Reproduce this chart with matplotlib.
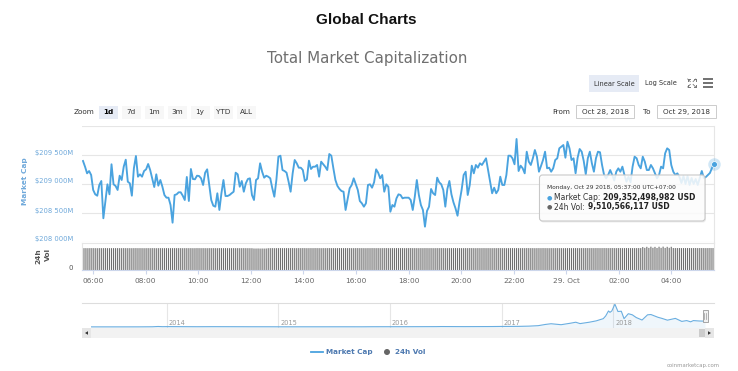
import numpy as np
import pandas as pd
import matplotlib
matplotlib.use("Agg")
import matplotlib.pyplot as plt
import matplotlib.dates as mdates
from matplotlib.patches import Rectangle, FancyBboxPatch, Polygon, Circle
from matplotlib.transforms import ScaledTranslation, blended_transform_factory
from matplotlib.ticker import FixedLocator, FuncFormatter

# ---------------- data ----------------
# Total market cap, million USD, 2018-10-28 05:37 -> 2018-10-29 05:37 (UTC+7)
market_cap_musd = [
    209397, 209298, 209184, 209224, 209155, 208897, 208822, 208798, 208983, 209052,
    208409, 208695, 208995, 208822, 209340, 208995, 208966, 208897, 209143, 209069,
    209298, 209419, 209040, 209012, 208798, 209271, 209483, 209126, 209167, 209126,
    209224, 209253, 209345, 209241, 209098, 208948, 209167, 208971, 209069, 208953,
    208810, 208764, 208764, 208638, 208333, 208810, 208822, 208857, 208857, 208798,
    208724, 209121, 208707, 209259, 209086, 209081, 209143, 209138, 209098, 208983,
    209195, 209253, 208995, 208724, 208626, 208609, 208840, 208552, 208840, 209069,
    208793, 208793, 208810, 208840, 208867, 209195, 209167, 208953, 209052,
    208867, 209012, 209086, 209098, 208810, 208724, 209069, 209098, 209357, 209212,
    209109, 209143, 209126, 209098, 208926, 208781, 209069, 209471, 209488, 209241,
    209224, 209195, 209040, 208867, 209184, 209414, 209357, 209281, 209281, 209241,
    209052, 209081, 209402, 209259, 209298, 209298, 209328, 209126, 209385, 209340,
    209298, 209241, 209517, 209488, 209271, 209069, 208966, 208914, 208879, 208867,
    208552, 208741, 208926, 208983, 209098, 208995, 208897, 208707, 208667, 208609,
    208667, 208983, 208995, 208936, 209029, 209253, 209195, 209098, 209155, 208867,
    208995, 208953, 208522, 208638, 208609, 208753, 208822, 208810, 208753,
    208764, 208764, 208764, 208724, 208552, 208781, 209069, 208810, 208638, 208552,
    208264, 208535, 208609, 208914, 208840, 208810, 209109, 209029, 208995, 208897,
    208609, 208914, 209052, 208822, 208684, 208581, 208453, 208695, 208897, 209155,
    209212, 208810, 208983, 209316, 209184, 209328, 209281, 209357, 209328, 209385,
    209443, 209241, 209040, 208840, 208936, 208840, 208897, 209126, 208983, 208983,
    209155, 209488, 209488, 209443, 209340, 209776, 209224, 209316, 209271, 209184,
    209557, 209385, 209328, 209443, 209586, 209471, 209212, 209310, 209414, 209557,
    209271, 209281, 209212, 209271, 209414, 209443, 209615, 209643,
    209672, 209453, 209729, 209615, 209414, 209443, 209184, 209453, 209603, 209557,
    209397, 209167, 209443, 209557, 209357, 209212, 209443, 209557, 209547, 209328,
    209155,
    209098, 209155, 209241, 209155, 209060, 209212, 209270, 209212, 209299, 209155,
    209040, 209126, 209030, 209299, 209471, 209443, 209328, 209270, 209471, 209385,
    209241, 209241, 209328, 209270, 209184, 209098, 209155, 209299, 209270, 209529,
    209615, 209586, 209328, 209212, 209155, 209184, 209126,
    209017, 209138, 209000, 209138, 208983, 209103, 209000, 209086, 208983, 209103,
    209224, 209103, 209121, 209155, 209190, 209276, 209352,
]

# 24h volume, billion USD
volume_busd = [
    9.47, 9.48, 9.46, 9.47, 9.49, 9.48, 9.47, 9.46, 9.48, 9.47,
    9.48, 9.49, 9.47, 9.46, 9.47, 9.48, 9.47, 9.48, 9.46, 9.47,
    9.49, 9.48, 9.47, 9.47, 9.46, 9.48, 9.49, 9.47, 9.48, 9.47,
    9.46, 9.47, 9.48, 9.47, 9.49, 9.48, 9.46, 9.47, 9.48, 9.47,
    9.47, 9.48, 9.46, 9.47, 9.48, 9.49, 9.47, 9.48, 9.47, 9.46,
    9.48, 9.47, 9.47, 9.48, 9.46, 9.47, 9.49, 9.48, 9.47, 9.48,
    9.47, 9.46, 9.48, 9.47, 9.48, 9.47, 9.46, 9.48, 9.49, 9.47,
    9.48, 9.47, 9.46, 9.47, 9.48, 9.47, 9.48, 9.46, 9.47, 9.48,
    9.47, 9.46, 9.45, 9.44, 9.33, 9.32, 9.34, 9.31, 9.33, 9.32,
    9.34, 9.45, 9.47, 9.48, 9.46, 9.47, 9.48, 9.49, 9.47, 9.48,
    9.48, 9.47, 9.49, 9.50, 9.48, 9.47, 9.49, 9.48, 9.50, 9.49,
    9.47, 9.48, 9.49, 9.48, 9.50, 9.49, 9.48, 9.47, 9.49, 9.48,
    9.49, 9.50, 9.48, 9.49, 9.47, 9.48, 9.50, 9.49, 9.48, 9.49,
    9.48, 9.49, 9.47, 9.48, 9.49, 9.50, 9.48, 9.49, 9.48, 9.47,
    9.49, 9.48, 9.50, 9.49, 9.48, 9.49, 9.47, 9.48, 9.49, 9.50,
    9.48, 9.47, 9.49, 9.48, 9.50, 9.49, 9.48, 9.49, 9.47, 9.48,
    9.49, 9.50, 9.48, 9.49, 9.48, 9.47, 9.49, 9.48, 9.50, 9.49,
    9.48, 9.49, 9.47, 9.48, 9.49, 9.48, 9.50, 9.49, 9.48, 9.47,
    9.49, 9.48, 9.49, 9.50, 9.48, 9.49, 9.47, 9.48, 9.49, 9.48,
    9.50, 9.49, 9.48, 9.47, 9.49, 9.48, 9.49, 9.50, 9.48, 9.49,
    9.48, 9.47, 9.49, 9.48, 9.50, 9.49, 9.48, 9.49, 9.47, 9.48,
    9.49, 9.50, 9.48, 9.49, 9.48, 9.47, 9.49, 9.48, 9.50, 9.49,
    9.48, 9.49, 9.47, 9.48, 9.49, 9.48, 9.50, 9.49, 9.48, 9.47,
    9.49, 9.48, 9.49, 9.50, 9.48, 9.49, 9.47, 9.48, 9.49, 9.50,
    9.48, 9.49, 9.50, 9.49, 9.48, 9.50, 9.49, 9.51, 9.50, 9.49,
    9.50, 9.49, 9.51, 9.50, 9.49, 9.50, 9.51, 9.50, 9.49, 9.50,
    9.51, 9.50, 9.49, 9.51, 9.50, 9.49, 9.50, 9.51, 9.50, 9.49,
    9.49, 9.50, 9.49, 9.51, 9.50, 9.95, 9.60, 10.05, 9.58, 10.10,
    9.62, 10.02, 9.55, 10.08, 9.60, 10.12, 9.57, 10.04, 9.61, 10.06,
    9.52, 9.50, 9.51, 9.52, 9.50, 9.51, 9.50, 9.52, 9.51, 9.50,
    9.51, 9.52, 9.50, 9.51, 9.52, 9.51, 9.50, 9.51, 9.52, 9.51,
    9.51,
]

y_ticks_musd = [208000, 208500, 209000, 209500, 210000]

# Navigator (all-time market cap, billion USD)
nav_dates = ['2013-04-28', '2013-06-01', '2013-08-01', '2013-10-01', '2013-11-15', '2013-12-04',
             '2013-12-18', '2014-01-05', '2014-02-25', '2014-04-10', '2014-06-01', '2014-08-01',
             '2014-10-01', '2014-12-01', '2015-01-15', '2015-03-01', '2015-06-01', '2015-08-01',
             '2015-10-01', '2015-11-05', '2015-12-15', '2016-03-01', '2016-06-01', '2016-06-18',
             '2016-09-01', '2016-12-01', '2017-01-05', '2017-02-01', '2017-03-01', '2017-04-01',
             '2017-05-01', '2017-05-25', '2017-06-12', '2017-07-15', '2017-08-15', '2017-09-01',
             '2017-09-15', '2017-10-15', '2017-11-07', '2017-11-30', '2017-12-08', '2017-12-17',
             '2017-12-22', '2017-12-28', '2018-01-07', '2018-01-17', '2018-01-28', '2018-02-06',
             '2018-02-20', '2018-03-05', '2018-03-18', '2018-04-06', '2018-04-24', '2018-05-05',
             '2018-05-28', '2018-06-10', '2018-06-28', '2018-07-24', '2018-08-14', '2018-08-30',
             '2018-09-12', '2018-09-21', '2018-10-10', '2018-10-29']
nav_caps_busd = [1.5, 1.2, 1.3, 1.9, 5.0, 15.0, 8.5, 11.0, 8.5, 6.5, 8.5, 7.5,
                 5.5, 5.0, 3.5, 3.6, 3.7, 4.3, 3.6, 6.0, 6.5, 7.2, 10.0, 13.0,
                 10.0, 13.0, 17.0, 17.5, 20.0, 28.0, 45.0, 90.0, 115.0, 80.0, 135.0, 170.0,
                 120.0, 170.0, 220.0, 300.0, 400.0, 580.0, 530.0, 580.0, 830.0, 560.0,
                 570.0, 300.0, 480.0, 440.0, 340.0, 250.0, 440.0, 450.0, 350.0, 310.0,
                 245.0, 310.0, 200.0, 230.0, 185.0, 230.0, 215.0, 209.0]
nav_years = [2014, 2015, 2016, 2017, 2018]

x_tick_hours = list(range(0, 24, 2))

# ---------------- style ----------------
LINE = '#4aa3df'
YLAB = '#6ea8da'
GRID = '#e6e6e6'
W, H = 738, 371

plt.rcParams['font.family'] = ['DejaVu Sans']
fig = plt.figure(figsize=(W / 100, H / 100), dpi=100)
fig.patch.set_facecolor('white')


def add_px(x0, y0, x1, y1):
    return fig.add_axes([x0 / W, 1 - y1 / H, (x1 - x0) / W, (y1 - y0) / H])


up3 = ScaledTranslation(0, 0.03, fig.dpi_scale_trans)

start = pd.Timestamp('2018-10-28 05:37')
end = pd.Timestamp('2018-10-29 05:37')
times = pd.date_range(start, end, periods=len(market_cap_musd))
vtimes = pd.date_range(start, end, periods=len(volume_busd))
t_left = start - pd.Timedelta(minutes=2.3)

# ---------------- main panel ----------------
ax = add_px(82, 126, 714, 242)
ax.plot(times, market_cap_musd, color=LINE, lw=1.35, solid_joinstyle='round', zorder=3)
ax.set_xlim(t_left, end)
ax.set_ylim(y_ticks_musd[0], y_ticks_musd[-1])
ax.yaxis.set_major_locator(FixedLocator(y_ticks_musd))
ax.yaxis.set_major_formatter(FuncFormatter(
    lambda v, p: '' if v >= y_ticks_musd[-1] else '$' + f"{int(round(v)):,}".replace(',', ' ') + 'M'))
ax.grid(axis='y', color=GRID, lw=0.8)
ax.tick_params(axis='y', length=0, labelsize=4.9, labelcolor=YLAB, pad=6.5)
ax.tick_params(axis='x', length=0, labelbottom=False)
for s in ['left', 'bottom', 'top']:
    ax.spines[s].set_visible(False)
ax.spines['right'].set_color(GRID)
ax.spines['right'].set_linewidth(0.8)
for lab in ax.get_yticklabels():
    lab.set_transform(lab.get_transform() + up3)
# last point marker with halo
ax.plot([times[-1]], [market_cap_musd[-1]], 'o', ms=9, color=LINE, alpha=0.25, mew=0, clip_on=False, zorder=4)
ax.plot([times[-1]], [market_cap_musd[-1]], 'o', ms=4.2, color=LINE, mec='white', mew=0.5, clip_on=False, zorder=5)

# ---------------- volume panel ----------------
axv = add_px(82, 243, 714, 270)
step_days = (end - start).total_seconds() / 86400 / (len(volume_busd) - 1)
bars = axv.bar(vtimes, volume_busd, width=step_days * 0.55, color='#6f6f6f', linewidth=0, align='center')
for b in bars:
    b.set_snap(False)
axv.set_xlim(t_left, end)
axv.set_ylim(0, 11.7)
axv.set_yticks([0])
axv.set_yticklabels(['0'])
axv.tick_params(axis='y', length=0, labelsize=5, labelcolor='#555555', pad=6.5)
for lab in axv.get_yticklabels():
    lab.set_transform(lab.get_transform() + up3)
axv.xaxis.set_major_locator(mdates.HourLocator(byhour=x_tick_hours))


def fmt_time(x, p):
    d = mdates.num2date(x)
    if d.hour == 0:
        return f"{d.day}. {d:%b}"
    return d.strftime('%H:%M')


axv.xaxis.set_major_formatter(FuncFormatter(fmt_time))
axv.tick_params(axis='x', length=3, color='#ccd6eb', width=0.8, labelsize=5.3, labelcolor='#666666', pad=2.5)
for s in ['left', 'right', 'top']:
    axv.spines[s].set_color(GRID)
    axv.spines[s].set_linewidth(0.8)
axv.spines['bottom'].set_color('#ccd6eb')
axv.spines['bottom'].set_linewidth(0.8)

# ---------------- navigator ----------------
axn = add_px(91, 303, 705, 328)
nav_t = pd.to_datetime(nav_dates)
axn.fill_between(nav_t, nav_caps_busd, -40, color='#6aaee0', alpha=0.1, lw=0)
axn.plot(nav_t, nav_caps_busd, color='#6aaee0', lw=0.8)
axn.set_xlim(nav_t[0], nav_t[-1])
axn.set_ylim(-40, 870)
axn.set_axis_off()
btr = blended_transform_factory(axn.transData, axn.transAxes)
offx = ScaledTranslation(0.02, 0, fig.dpi_scale_trans)
for yr in nav_years:
    d = pd.Timestamp(f'{yr}-01-01')
    axn.axvline(d, color=GRID, lw=0.8, zorder=0)
    axn.text(d, 0.2, str(yr), transform=btr + offx, fontsize=4.8, color='#999999', ha='left', va='center')

# ---------------- overlay (pixel coordinates) ----------------
ov = fig.add_axes([0, 0, 1, 1])
ov.set_xlim(0, W)
ov.set_ylim(H, 0)
ov.axis('off')
ov.patch.set_alpha(0)
ov.set_zorder(10)

ov.text(366.5, 20, 'Global Charts', ha='center', va='center', fontsize=11,
        fontweight='bold', family='Liberation Sans', color='#111111')
ov.text(367, 59, 'Total Market Capitalization', ha='center', va='center', fontsize=10.9, color='#707070')

# scale buttons
ov.add_patch(Rectangle((589, 75), 50, 17, fc='#e6ebf5', ec='none'))
ov.text(614, 83.5, 'Linear Scale', ha='center', va='center', fontsize=4.8, color='#333333')
ov.text(661, 83.5, 'Log Scale', ha='center', va='center', fontsize=4.8, color='#333333')
# fullscreen icon
cx, cy, a, b = 691.7, 83, 4.0, 1.8
for sx in (-1, 1):
    for sy in (-1, 1):
        ov.plot([cx + sx * a, cx + sx * (a - b)], [cy + sy * a, cy + sy * a], color='#777777', lw=0.7)
        ov.plot([cx + sx * a, cx + sx * a], [cy + sy * a, cy + sy * (a - b)], color='#777777', lw=0.7)
        ov.plot([cx + sx * a, cx + sx * (a - 2.6)], [cy + sy * a, cy + sy * (a - 2.6)], color='#777777', lw=0.6)
# hamburger
for yy in (79, 83, 87):
    ov.plot([703, 713], [yy, yy], color='#666666', lw=1.3, solid_capstyle='butt')

# zoom buttons
ov.text(83.7, 112, 'Zoom', ha='center', va='center', fontsize=5.2, color='#333333')
zoom_labels = ['1d', '7d', '1m', '3m', '1y', 'YTD', 'ALL']
zoom_cx = [108, 131, 154, 177, 200, 223, 246]
for lab, c in zip(zoom_labels, zoom_cx):
    sel = lab == '1d'
    ov.add_patch(Rectangle((c - 9.5, 105.5), 19, 13, fc='#e6ebf5' if sel else '#f7f7f7', ec='none'))
    ov.text(c, 112, lab, ha='center', va='center', fontsize=5.2, color='#000000' if sel else '#333333',
            fontweight='bold' if sel else 'normal')

# date range inputs
ov.text(561, 112, 'From', ha='center', va='center', fontsize=5.2, color='#333333')
ov.add_patch(Rectangle((576, 105), 58, 13.3, fc='white', ec='#cccccc', lw=0.7))
ov.text(605, 112, 'Oct 28, 2018', ha='center', va='center', fontsize=5.2, color='#333333')
ov.text(647, 112, 'To', ha='center', va='center', fontsize=5.2, color='#333333')
ov.add_patch(Rectangle((657, 105), 59, 13.3, fc='white', ec='#cccccc', lw=0.7))
ov.text(686.5, 112, 'Oct 29, 2018', ha='center', va='center', fontsize=5.2, color='#333333')

# axis titles
ov.text(25.5, 181, 'Market Cap', rotation=90, ha='center', va='center', fontsize=5.3,
        fontweight='bold', color=YLAB)
ov.text(38.5, 256.5, '24h', rotation=90, ha='center', va='center', fontsize=5.3,
        fontweight='bold', color='#555555')
ov.text(47.5, 254.5, 'Vol', rotation=90, ha='center', va='center', fontsize=5.3,
        fontweight='bold', color='#555555')

# tooltip
ov.add_patch(FancyBboxPatch((540.5, 176.5), 165.5, 46, boxstyle='round,pad=0,rounding_size=3',
                            fc=(0, 0, 0, 0.07), ec='none'))
ov.add_patch(FancyBboxPatch((539.5, 175), 165.5, 46, boxstyle='round,pad=0,rounding_size=3',
                            fc=(1, 1, 1, 0.85), ec='#c8c8c8', lw=0.8))
ov.text(546.7, 188, 'Monday, Oct 29 2018, 05:37:00 UTC+07:00', fontsize=4.2, color='#333333',
        ha='left', va='center')
rend = fig.canvas.get_renderer()


def follow(t, y, s, **kw):
    bb = t.get_window_extent(rend)
    xe = ov.transData.inverted().transform((bb.x1, bb.y0))[0]
    return ov.text(xe + 2.5, y, s, **kw)


ov.text(549, 197.5, '●', color=LINE, fontsize=4.5, ha='center', va='center')
t1 = ov.text(554.5, 197.5, 'Market Cap:', fontsize=5.5, color='#333333', ha='left', va='center')
follow(t1, 197.5, f"{209352498982:,} USD", fontsize=5.5, fontweight='bold', color='#222222',
       ha='left', va='center')
ov.text(549, 207, '●', color='#666666', fontsize=4.5, ha='center', va='center')
t2 = ov.text(554.5, 207, '24h Vol:', fontsize=5.5, color='#333333', ha='left', va='center')
follow(t2, 207, f"{9510566117:,} USD", fontsize=5.5, fontweight='bold', color='#222222',
       ha='left', va='center')

# navigator outline, scrollbar, handle
ov.plot([82, 714], [303, 303], color='#dddddd', lw=0.8)
ov.add_patch(Rectangle((82, 328), 632, 10, fc='#f2f2f2', ec='none'))
ov.add_patch(Rectangle((82, 328), 9, 10, fc='#e6e6e6', ec='none'))
ov.add_patch(Rectangle((705, 328), 9, 10, fc='#e6e6e6', ec='none'))
ov.add_patch(Rectangle((699, 329), 6, 8, fc='#cccccc', ec='none'))
ov.add_patch(Polygon([(85, 333), (88, 331.2), (88, 334.8)], closed=True, fc='#333333', ec='none'))
ov.add_patch(Polygon([(711, 333), (708, 331.2), (708, 334.8)], closed=True, fc='#333333', ec='none'))
ov.add_patch(Rectangle((702.5, 309.5), 5.5, 12.5, fc='#f2f2f2', ec='#999999', lw=0.6))
ov.plot([704.3, 704.3], [312.5, 319], color='#999999', lw=0.5)
ov.plot([706.2, 706.2], [312.5, 319], color='#999999', lw=0.5)

# legend
ov.plot([311, 322.5], [352, 352], color=LINE, lw=1.3)
ov.text(326, 352, 'Market Cap', ha='left', va='center', fontsize=5.2, fontweight='bold', color='#4d79b0')
ov.add_patch(Circle((387, 352), 3, fc='#666666', ec='none'))
ov.text(395, 352, '24h Vol', ha='left', va='center', fontsize=5.2, fontweight='bold', color='#4d79b0')

ov.text(720, 365, 'coinmarketcap.com', ha='right', va='center', fontsize=3.9, color='#999999')

fig.savefig('out.png', dpi=100, facecolor='white')
